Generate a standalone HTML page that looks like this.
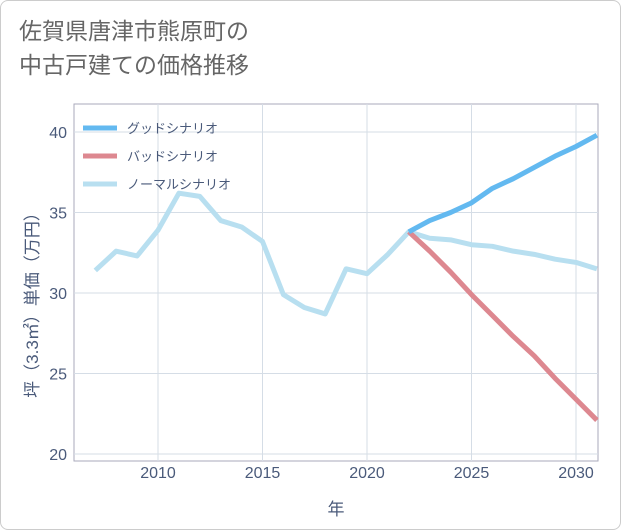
<!DOCTYPE html>
<html><head><meta charset="utf-8"><style>
body{margin:0;background:#fff;}
#wrap{position:relative;width:619px;height:528px;border:1px solid #ccc;border-radius:8px;background:#fff;overflow:hidden;font-family:"Liberation Sans","Noto Sans CJK JP",sans-serif;}
#title{position:absolute;left:18px;top:13px;font-size:23px;line-height:34px;color:#666;}
</style></head><body>
<div id="wrap">
<div id="title">佐賀県唐津市熊原町の<br>中古戸建ての価格推移</div>
<svg id="chart" width="621" height="530" style="position:absolute;left:0;top:0"></svg>
</div>
<script>
const years=[2007,2008,2009,2010,2011,2012,2013,2014,2015,2016,2017,2018,2019,2020,2021,2022,2023,2024,2025,2026,2027,2028,2029,2030,2031];
const normalVals=[31.4,32.6,32.3,33.9,36.2,36.0,34.5,34.1,33.2,29.9,29.1,28.7,31.5,31.2,32.4,33.8,33.4,33.3,33.0,32.9,32.6,32.4,32.1,31.9,31.5];
const goodYears=[2022,2023,2024,2025,2026,2027,2028,2029,2030,2031];
const goodVals=[33.8,34.5,35.0,35.6,36.5,37.1,37.8,38.5,39.1,39.8];
const badVals=[33.8,32.6,31.3,29.9,28.6,27.3,26.1,24.7,23.4,22.1];
const xTicks=[2010,2015,2020,2025,2030];
const yTicks=[20,25,30,35,40];
const L=73,R=597,T=103,B=460;
const x=v=>157+(v-2010)*20.9;
const y=v=>453-(v-20)*16.1;
const svg=document.getElementById('chart');
const NS='http://www.w3.org/2000/svg';
function mk(t,a){const e=document.createElementNS(NS,t);for(const k in a)e.setAttribute(k,a[k]);svg.appendChild(e);return e;}
let bg=mk('rect',{x:L,y:T,width:R-L,height:B-T,fill:'#fff',stroke:'#aab',"stroke-width":1});


xTicks.forEach(t=>{
 let g=mk('line',{x1:x(t),x2:x(t),y1:T,y2:B,stroke:'#d5dde6'});
 
 
 let l=mk('text',{x:x(t),y:477,"text-anchor":"middle","font-size":16,fill:'#4a5a7a'});l.textContent=t;
 
 
});
yTicks.forEach(t=>{
 let g=mk('line',{x1:L,x2:R,y1:y(t),y2:y(t),stroke:'#d5dde6'});
 
 
 let l=mk('text',{x:66,y:y(t)+6,"text-anchor":"end","font-size":16,fill:'#4a5a7a'});l.textContent=t;
 
 
});
function line(xs,vs,c,name){
 let p=mk('polyline',{points:xs.map((yr,i)=>x(yr)+','+y(vs[i])).join(' '),fill:'none',stroke:c,"stroke-width":5,"stroke-linejoin":"round"});
 
 
}
line(years,normalVals,'#b8dff0','normal-scenario-line');
line(goodYears,badVals,'#dd8890','bad-scenario-line');
line(goodYears,goodVals,'#63b9f0','good-scenario-line');
const legend=[['グッドシナリオ','#63b9f0'],['バッドシナリオ','#dd8890'],['ノーマルシナリオ','#b8dff0']];
legend.forEach((e,i)=>{
 let ly=127+i*28;
 let s=mk('line',{x1:82,x2:116,y1:ly,y2:ly,stroke:e[1],"stroke-width":5});
 
 
 let t=mk('text',{x:126,y:ly+5,"font-size":13,fill:'#4a5a7a'});t.textContent=e[0];
 
 
});
let xt=mk('text',{x:335,y:514,"text-anchor":"middle","font-size":17,fill:'#4a5a7a'});xt.textContent='年';


let yt=mk('text',{x:0,y:0,"text-anchor":"middle","font-size":17,fill:'#4a5a7a',transform:'translate(37,300) rotate(-90)'});yt.textContent='坪（3.3㎡）単価（万円）';


</script>
</body></html>
